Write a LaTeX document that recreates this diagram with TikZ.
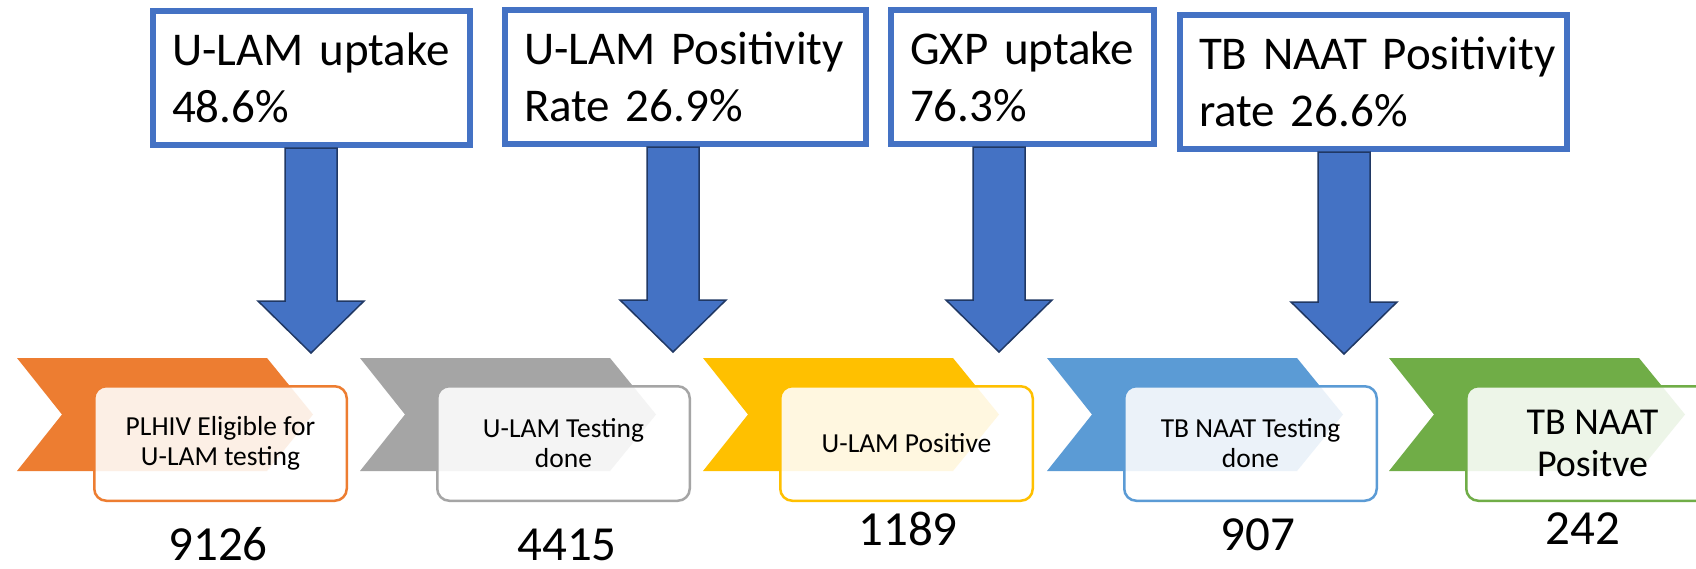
\documentclass[tikz,border=0pt]{standalone}
\usepackage{fontspec}
\setmainfont{Carlito}
\definecolor{orangeC}{HTML}{ED7D31}
\definecolor{grayC}{HTML}{A5A5A5}
\definecolor{goldC}{HTML}{FFC000}
\definecolor{blueC}{HTML}{5B9BD5}
\definecolor{greenC}{HTML}{70AD47}
\definecolor{topblue}{HTML}{4472C4}
\definecolor{navy}{HTML}{203864}
\begin{document}
\begin{tikzpicture}[x=1pt,y=-1pt,
	topbox/.style={draw=topblue,line width=6pt,fill=white,anchor=north west,minimum height=134pt,inner xsep=19pt,align=left,font=\fontsize{47}{57}\selectfont},
	blockarrow/.style={fill=topblue,draw=navy,line width=1.5pt},
	stagebox/.style={draw=#1,fill=white,fill opacity=0.88,text opacity=1,rounded corners=12pt,line width=2.5pt,minimum width=252.5pt,minimum height=114.5pt,align=center,font=\fontsize{27.5}{30}\selectfont},
	count/.style={anchor=base,font=\fontsize{49}{57}\selectfont}]
				\path[fill=white,use as bounding box](0,0) rectangle (1696,568);
				% chevrons
				\foreach \cx/\col in {17/orangeC,360/grayC,703/goldC,1047/blueC,1389/greenC}
					\fill[\col](\cx,358)--++(250,0)--++(46,56.5)--++(-46,56.5)--++(-250,0)--++(45,-56.5)--cycle;
				% stages
				\node[stagebox=orangeC] (s1) at (220.5,443.5){PLHIV Eligible for\\U-LAM testing};
				\node[stagebox=grayC] (s2) at (563.5,443.5){U-LAM Testing\\done};
				\node[stagebox=goldC] (s3) at (906.5,443.5){U-LAM Positive};
				\node[stagebox=blueC] (s4) at (1250.5,443.5){TB NAAT Testing\\done};
				\node[stagebox=greenC,font=\fontsize{38}{42}\selectfont] (s5) at (1592.5,443.5){TB NAAT\\Positve};
				\node[count] (n1) at (218,560){9126};
				\node[count] (n2) at (567,560){4415};
				\node[count] (n3) at (908,545){1189};
				\node[count] (n4) at (1258,550){907};
				\node[count] (n5) at (1583,544){242};
				% rates
				\node[topbox,text width=279pt] (up1) at (150,8){\mbox{U-LAM uptake}\\\mbox{48.6\%}};
				\node[topbox,text width=323pt] (up2) at (502,7){\mbox{U-LAM Positivity}\\\mbox{Rate 26.9\%}};
				\node[topbox,text width=225pt] (up3) at (888,7){\mbox{GXP uptake}\\\mbox{76.3\%}};
				\node[topbox,text width=349pt] (up4) at (1177,12){\mbox{TB NAAT Positivity}\\\mbox{rate 26.6\%}};
				\coordinate (tip1) at (311,353);
				\coordinate (tip2) at (673,352);
				\coordinate (tip3) at (999,352);
				\coordinate (tip4) at (1344,354);
				\foreach \n in {1,...,4}
					\draw[blockarrow]([xshift=-26pt]up\n.south -| tip\n)--([xshift=26pt]up\n.south -| tip\n)--([shift={(26pt,52pt)}]tip\n)--([shift={(53pt,52pt)}]tip\n)--(tip\n)--([shift={(-53pt,52pt)}]tip\n)--([shift={(-26pt,52pt)}]tip\n)--cycle;
				\end{tikzpicture}
\end{document}
